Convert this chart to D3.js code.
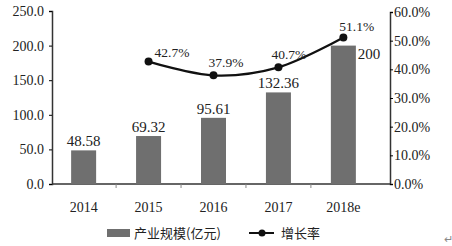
<!DOCTYPE html>
<html>
<head>
<meta charset="utf-8">
<script src="https://cdn.jsdelivr.net/npm/d3@7"></script>
<style>
  body { margin: 0; background: #fff; }
  text { font-family: "Liberation Serif", "Times New Roman", serif; fill: #222; }
  .cn { font-family: "Noto Sans CJK SC", sans-serif; }
</style>
</head>
<body>
<div id="chart"></div>
<script>
// data
var years  = ["2014", "2015", "2016", "2017", "2018e"];
var scale  = [48.58, 69.32, 95.61, 132.36, 200];
var growth = [null, 42.7, 37.9, 40.7, 51.1];
var leftTicks  = [0, 50, 100, 150, 200, 250];
var rightTicks = [0, 10, 20, 30, 40, 50, 60];

var width = 452, height = 246;
var barColor = "#6f6f6f";

var svg = d3.select("#chart").append("svg")
    .attr("width", width)
    .attr("height", height);

var x = d3.scaleBand().domain(years).range([51, 376]).paddingInner(0.615).paddingOuter(0.31);
var yL = d3.scaleLinear().domain([0, 250]).range([184, 11]);
var yR = d3.scaleLinear().domain([0, 60]).range([184, 12]);

// axes
svg.append("line")
    .attr("x1", 52).attr("x2", 390)
    .attr("y1", 184).attr("y2", 184)
    .attr("stroke", "#333").attr("stroke-width", 1.5);

svg.append("g")
    .attr("transform", "translate(52,0)")
    .call(d3.axisLeft(yL).tickValues(leftTicks).tickSize(3).tickFormat(d3.format(".1f")))
    .call(function(g) {
        g.select(".domain").attr("stroke", "#333").attr("stroke-width", 1.5);
        g.selectAll("text").attr("font-size", 14).attr("x", -8);
    });

svg.append("g")
    .attr("transform", "translate(390,0)")
    .call(d3.axisRight(yR).tickValues(rightTicks).tickSize(3).tickFormat(function(d) { return d.toFixed(1) + "%"; }))
    .call(function(g) {
        g.select(".domain").attr("stroke", "#333").attr("stroke-width", 1.5);
        g.selectAll("text").attr("font-size", 14).attr("x", 4);
    });

// category separators on the bottom axis
var step = x.step();
svg.append("g").selectAll("line")
    .data(years.slice(0, -1))
    .enter().append("line")
    .attr("x1", function(d) { return x(d) + x.bandwidth() / 2 + step / 2; })
    .attr("x2", function(d) { return x(d) + x.bandwidth() / 2 + step / 2; })
    .attr("y1", 184).attr("y2", 188)
    .attr("stroke", "#888");

svg.append("g").selectAll("text")
    .data(years)
    .enter().append("text")
    .attr("x", function(d) { return x(d) + x.bandwidth() / 2; })
    .attr("y", 212)
    .attr("text-anchor", "middle")
    .attr("font-size", 14)
    .text(function(d) { return d; });

// bars
svg.append("g").selectAll("rect")
    .data(scale)
    .enter().append("rect")
    .attr("x", function(d, i) { return x(years[i]); })
    .attr("y", function(d) { return yL(d); })
    .attr("width", x.bandwidth())
    .attr("height", function(d) { return yL(0) - yL(d); })
    .attr("fill", barColor);

svg.append("g").selectAll("text")
    .data(scale)
    .enter().append("text")
    .attr("x", function(d, i) {
        return i === 4 ? x(years[i]) + x.bandwidth() + 2 : x(years[i]) + x.bandwidth() / 2;
    })
    .attr("y", function(d, i) { return i === 4 ? yL(d) + 13 : yL(d) - 4; })
    .attr("text-anchor", function(d, i) { return i === 4 ? "start" : "middle"; })
    .attr("font-size", 15)
    .text(function(d) { return d; });

// growth line
var pts = years.map(function(y, i) { return { year: y, v: growth[i] }; })
    .filter(function(d) { return d.v !== null; });

var line = d3.line()
    .x(function(d) { return x(d.year) + x.bandwidth() / 2; })
    .y(function(d) { return yR(d.v); })
    .curve(d3.curveCatmullRom.alpha(0.5));

svg.append("path")
    .datum(pts)
    .attr("d", line)
    .attr("fill", "none")
    .attr("stroke", "#111")
    .attr("stroke-width", 2.2);

svg.append("g").selectAll("circle")
    .data(pts)
    .enter().append("circle")
    .attr("cx", function(d) { return x(d.year) + x.bandwidth() / 2; })
    .attr("cy", function(d) { return yR(d.v); })
    .attr("r", 4)
    .attr("fill", "#111");

var labelDx = [null, 6, -5, -7, -4];
var labelDy = [null, -5, -8, -8, -7];
svg.append("g").selectAll("text")
    .data(pts)
    .enter().append("text")
    .attr("x", function(d) { return x(d.year) + x.bandwidth() / 2 + labelDx[years.indexOf(d.year)]; })
    .attr("y", function(d) { return yR(d.v) + labelDy[years.indexOf(d.year)]; })
    .attr("font-size", 13.5)
    .text(function(d) { return d.v.toFixed(1) + "%"; });

// legend
var lg = svg.append("g").attr("transform", "translate(0,233)");
lg.append("rect").attr("x", 107).attr("y", -4).attr("width", 23).attr("height", 8).attr("fill", barColor);
lg.append("text").attr("class", "cn").attr("x", 134).attr("y", 5).attr("font-size", 13).text("产业规模(亿元)");
lg.append("line").attr("x1", 249).attr("x2", 274).attr("y1", 0).attr("y2", 0).attr("stroke", "#111").attr("stroke-width", 2);
lg.append("circle").attr("cx", 262).attr("cy", 0).attr("r", 3.5).attr("fill", "#111");
lg.append("text").attr("class", "cn").attr("x", 281).attr("y", 5).attr("font-size", 13).text("增长率");

svg.append("text")
    .attr("x", 444).attr("y", 243)
    .attr("font-size", 11)
    .style("fill", "#888")
    .text("↵");
</script>
</body>
</html>
